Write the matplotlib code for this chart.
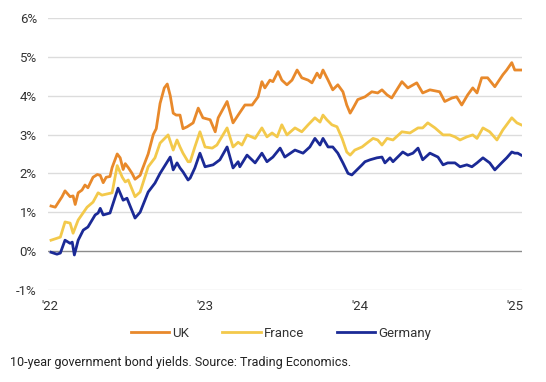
import matplotlib.pyplot as plt
import pandas as pd

# 10-year government bond yields (%)
uk_dates = ['2022-01-03', '2022-01-13', '2022-01-29', '2022-02-05', '2022-02-17', '2022-02-24',
            '2022-03-01', '2022-03-08', '2022-03-17', '2022-03-24', '2022-03-31', '2022-04-12',
            '2022-04-22', '2022-04-29', '2022-05-06', '2022-05-13', '2022-05-22', '2022-05-27',
            '2022-06-08', '2022-06-15', '2022-06-22', '2022-06-27', '2022-07-04', '2022-07-13',
            '2022-07-20', '2022-08-01', '2022-08-06', '2022-08-20', '2022-09-01', '2022-09-08',
            '2022-09-17', '2022-09-27', '2022-10-04', '2022-10-11', '2022-10-18', '2022-10-25',
            '2022-11-03', '2022-11-10', '2022-11-20', '2022-12-04', '2022-12-16', '2022-12-27',
            '2023-01-13', '2023-01-25', '2023-02-01', '2023-02-22', '2023-03-08', '2023-03-20',
            '2023-04-05', '2023-04-22', '2023-05-06', '2023-05-15', '2023-05-22', '2023-06-03',
            '2023-06-10', '2023-06-22', '2023-07-01', '2023-07-13', '2023-07-25', '2023-08-06',
            '2023-08-17', '2023-09-01', '2023-09-10', '2023-09-22', '2023-09-29', '2023-10-06',
            '2023-10-18', '2023-10-29', '2023-11-10', '2023-11-22', '2023-12-01', '2023-12-09',
            '2023-12-16', '2023-12-27', '2024-01-13', '2024-01-29', '2024-02-12', '2024-02-22',
            '2024-03-05', '2024-03-16', '2024-04-09', '2024-04-23', '2024-05-14', '2024-05-28',
            '2024-06-14', '2024-07-07', '2024-07-19', '2024-08-05', '2024-08-16', '2024-08-28',
            '2024-09-11', '2024-09-23', '2024-10-03', '2024-10-14', '2024-10-28', '2024-11-14',
            '2024-12-03', '2024-12-12', '2024-12-24', '2024-12-31', '2025-01-15']
uk_vals = [1.16, 1.13, 1.40, 1.55, 1.40, 1.42,
           1.20, 1.50, 1.57, 1.70, 1.63, 1.90,
           1.97, 1.95, 1.76, 1.90, 1.92, 2.15,
           2.50, 2.40, 2.10, 2.25, 2.15, 2.00,
           1.85, 1.95, 2.10, 2.50, 3.00, 3.15,
           3.80, 4.20, 4.30, 4.00, 3.55, 3.50,
           3.50, 3.15, 3.20, 3.30, 3.68, 3.43,
           3.38, 3.07, 3.43, 3.85, 3.30, 3.50,
           3.76, 3.76, 3.97, 4.36, 4.20, 4.40,
           4.36, 4.62, 4.40, 4.28, 4.40, 4.66,
           4.46, 4.40, 4.33, 4.58, 4.46, 4.66,
           4.40, 4.15, 4.28, 4.10, 3.76, 3.55,
           3.68, 3.90, 3.97, 4.10, 4.07, 4.15,
           4.02, 3.94, 4.36, 4.20, 4.33, 4.07,
           4.15, 4.10, 3.85, 3.94, 3.97, 3.76,
           4.02, 4.20, 4.07, 4.46, 4.46, 4.23,
           4.54, 4.66, 4.85, 4.66, 4.66]

fr_dates = ['2022-01-03', '2022-01-17', '2022-01-25', '2022-02-05', '2022-02-17', '2022-02-24',
            '2022-03-08', '2022-03-29', '2022-04-12', '2022-04-24', '2022-05-03', '2022-05-27',
            '2022-06-08', '2022-06-20', '2022-06-27', '2022-07-04', '2022-07-20', '2022-08-01',
            '2022-08-20', '2022-09-05', '2022-09-17', '2022-10-06', '2022-10-18', '2022-10-27',
            '2022-11-03', '2022-11-10', '2022-11-22', '2022-11-27', '2022-12-08', '2022-12-20',
            '2023-01-01', '2023-01-18', '2023-01-29', '2023-02-22', '2023-03-08', '2023-03-20',
            '2023-03-29', '2023-04-10', '2023-04-29', '2023-05-15', '2023-05-27', '2023-06-08',
            '2023-06-20', '2023-07-01', '2023-07-13', '2023-08-01', '2023-08-17', '2023-09-01',
            '2023-09-17', '2023-09-29', '2023-10-06', '2023-10-15', '2023-10-27', '2023-11-08',
            '2023-11-20', '2023-12-01', '2023-12-09', '2023-12-20', '2024-01-06', '2024-01-20',
            '2024-02-01', '2024-02-12', '2024-02-22', '2024-03-05', '2024-03-19', '2024-04-09',
            '2024-04-28', '2024-05-17', '2024-05-28', '2024-06-09', '2024-06-26', '2024-07-15',
            '2024-07-31', '2024-08-12', '2024-08-24', '2024-09-09', '2024-09-23', '2024-10-03',
            '2024-10-17', '2024-11-02', '2024-11-19', '2024-12-03', '2024-12-24', '2025-01-05',
            '2025-01-15']
fr_vals = [0.28, 0.33, 0.36, 0.75, 0.72, 0.46,
           0.80, 1.13, 1.26, 1.50, 1.44, 1.50,
           2.20, 1.90, 1.78, 1.83, 1.40, 1.52,
           2.17, 2.40, 2.78, 2.99, 2.60, 2.86,
           2.68, 2.52, 2.30, 2.30, 2.68, 3.07,
           2.68, 2.65, 2.73, 3.17, 2.68, 2.80,
           2.73, 2.99, 2.90, 3.17, 2.94, 3.04,
           2.94, 3.25, 2.99, 3.17, 3.07, 3.25,
           3.43, 3.32, 3.50, 3.38, 3.25, 3.20,
           2.90, 2.55, 2.47, 2.60, 2.68, 2.80,
           2.90, 2.86, 2.73, 2.90, 2.86, 3.07,
           3.04, 3.17, 3.17, 3.30, 3.17, 2.99,
           2.99, 2.94, 2.86, 2.94, 2.99, 2.90,
           3.17, 3.07, 2.86, 3.12, 3.43, 3.30,
           3.25]

de_dates = ['2022-01-03', '2022-01-17', '2022-01-25', '2022-02-05', '2022-02-17', '2022-02-22',
            '2022-02-27', '2022-03-08', '2022-03-20', '2022-03-31', '2022-04-17', '2022-04-24',
            '2022-04-29', '2022-05-06', '2022-05-22', '2022-06-10', '2022-06-22', '2022-07-01',
            '2022-07-20', '2022-08-01', '2022-08-20', '2022-09-05', '2022-09-17', '2022-10-11',
            '2022-10-18', '2022-10-27', '2022-11-03', '2022-11-10', '2022-11-22', '2022-11-27',
            '2022-12-08', '2022-12-20', '2023-01-01', '2023-01-20', '2023-02-05', '2023-02-22',
            '2023-03-08', '2023-03-20', '2023-03-24', '2023-04-10', '2023-04-29', '2023-05-15',
            '2023-05-27', '2023-06-10', '2023-06-27', '2023-07-08', '2023-08-01', '2023-08-20',
            '2023-09-05', '2023-09-17', '2023-09-29', '2023-10-06', '2023-10-18', '2023-10-29',
            '2023-11-10', '2023-11-22', '2023-12-04', '2023-12-13', '2023-12-25', '2024-01-06',
            '2024-01-13', '2024-01-25', '2024-02-10', '2024-02-22', '2024-02-29', '2024-03-12',
            '2024-03-19', '2024-04-11', '2024-04-23', '2024-05-05', '2024-05-17', '2024-05-28',
            '2024-06-14', '2024-07-03', '2024-07-15', '2024-07-26', '2024-08-12', '2024-08-24',
            '2024-09-09', '2024-09-21', '2024-10-03', '2024-10-17', '2024-11-02', '2024-11-14',
            '2024-11-30', '2024-12-12', '2024-12-24', '2024-12-31', '2025-01-07', '2025-01-15']
de_vals = [-0.03, -0.08, -0.05, 0.28, 0.20, 0.23,
           -0.10, 0.28, 0.54, 0.62, 0.93, 0.98,
           1.10, 0.93, 0.98, 1.62, 1.31, 1.36,
           0.85, 1.00, 1.52, 1.75, 2.00, 2.42,
           2.09, 2.27, 2.14, 2.04, 1.83, 1.88,
           2.14, 2.52, 2.17, 2.22, 2.35, 2.68,
           2.14, 2.30, 2.17, 2.47, 2.27, 2.52,
           2.30, 2.42, 2.65, 2.42, 2.60, 2.52,
           2.68, 2.90, 2.73, 2.90, 2.68, 2.68,
           2.52, 2.27, 2.00, 1.96, 2.09, 2.22,
           2.30, 2.35, 2.40, 2.42, 2.27, 2.40,
           2.30, 2.55, 2.47, 2.52, 2.65, 2.35,
           2.52, 2.42, 2.22, 2.27, 2.27, 2.17,
           2.22, 2.17, 2.27, 2.40, 2.27, 2.09,
           2.27, 2.40, 2.55, 2.52, 2.52, 2.47]

year_ticks = ['2022-01-01', '2023-01-01', '2024-01-01', '2025-01-01']
year_labels = ["'22", "'23", "'24", "'25"]
y_ticks = [-1, 0, 1, 2, 3, 4, 5, 6]

plt.rcParams['font.family'] = ['Roboto', 'DejaVu Sans']

fig = plt.figure(figsize=(5.46, 3.82), dpi=100)
ax = fig.add_axes([0.088, 0.241, 0.868, 0.712])

ax.plot(pd.to_datetime(uk_dates), uk_vals, color='#E8892B', lw=2.0, label='UK', zorder=3)
ax.plot(pd.to_datetime(fr_dates), fr_vals, color='#F3C94B', lw=2.0, label='France', zorder=3)
ax.plot(pd.to_datetime(de_dates), de_vals, color='#1B2A96', lw=2.0, label='Germany', zorder=4)

ax.set_ylim(-1, 6)
ax.set_yticks(y_ticks)
ax.set_yticklabels([f'{v}%' for v in y_ticks])
ax.set_xlim(pd.Timestamp('2021-12-27'), pd.Timestamp('2025-01-17'))
ax.set_xticks(pd.to_datetime(year_ticks))
ax.set_xticklabels(year_labels)

for v in y_ticks:
    ax.axhline(v, color='#8c8c8c' if v == 0 else '#dcdcdc', lw=1.0, zorder=1)

for s in ax.spines.values():
    s.set_visible(False)
ax.tick_params(axis='both', length=0, labelsize=9.5, colors='#333333')
ax.tick_params(axis='y', pad=8)
ax.tick_params(axis='x', pad=7)

fig.legend(loc='center', bbox_to_anchor=(0.515, 0.128), ncol=3, frameon=False,
           fontsize=9.5, handlelength=2.9, handletextpad=0.25, columnspacing=2.5,
           labelcolor='#333333')

fig.text(0.018, 0.052, '10-year government bond yields. Source: Trading Economics.',
         fontsize=9, color='#222222', va='center')

fig.savefig('out.png', dpi=100)
